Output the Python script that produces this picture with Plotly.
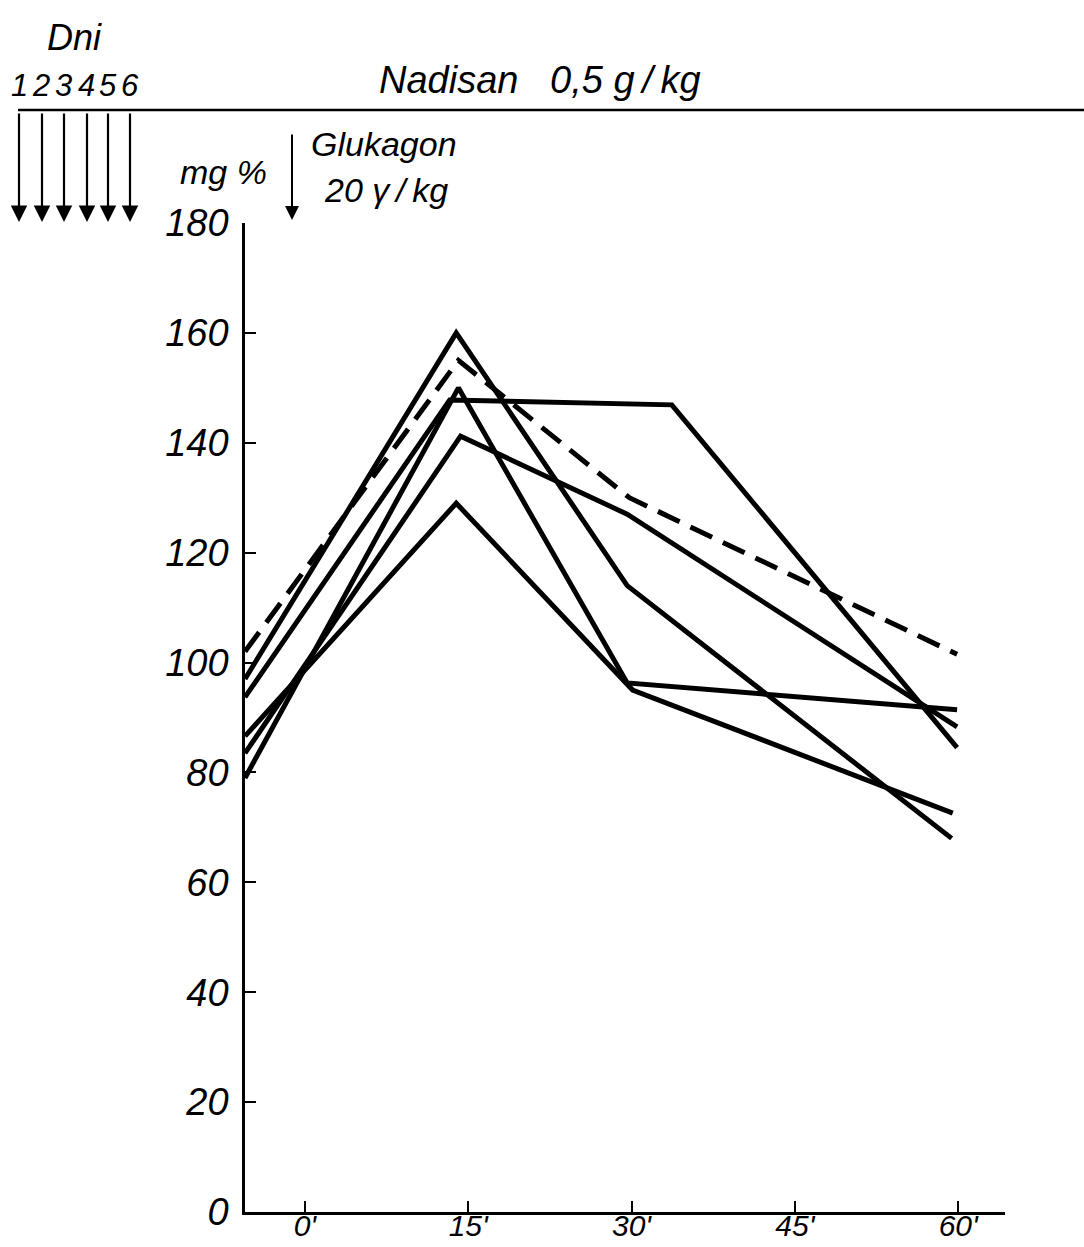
import plotly.graph_objects as go

# ---- data (minutes after glucagon, blood sugar mg %) ----
t_day1 = [-5.5, 13.9, 29.6, 59.4]
v_day1 = [97.0, 160.0, 114.0, 68.0]

t_mean = [-5.5, 14.1, 29.8, 59.9]
v_mean = [102.0, 155.0, 130.0, 101.5]

t_day3 = [-5.5, 13.3, 33.7, 59.9]
v_day3 = [93.7, 147.8, 146.9, 84.5]

t_day4 = [-5.5, 14.1, 29.6, 59.9]
v_day4 = [79.0, 150.0, 96.3, 91.4]

t_day5 = [-5.5, 14.3, 29.6, 59.9]
v_day5 = [83.5, 141.2, 127.0, 88.3]

t_day6 = [-5.5, 13.9, 30.1, 59.5]
v_day6 = [86.6, 129.0, 95.0, 72.6]

x_tickvals = [0, 15, 30, 45, 60]
x_ticktext = ["0'", "15'", "30'", "45'", "60'"]
y_tickvals = [0, 20, 40, 60, 80, 100, 120, 140, 160, 180]
y_ticktext = ["0", "20", "40", "60", "80", "100", "120", "140", "160", "180"]
day_labels = ["1", "2", "3", "4", "5", "6"]

FONT = "Liberation Sans, Arial, sans-serif"

W, H = 1084, 1247
L, R, T, B = 245, 79, 223, 35
PW, PH = W - L - R, H - T - B


def px(xp):
    return (xp - L) / PW


def py(yp):
    return (H - B - yp) / PH


fig = go.Figure()
solid = [(t_day1, v_day1), (t_day3, v_day3), (t_day4, v_day4),
         (t_day5, v_day5), (t_day6, v_day6)]
for tt, vv in solid:
    fig.add_trace(go.Scatter(x=tt, y=vv, mode="lines",
                             line=dict(color="#000", width=5),
                             showlegend=False, hoverinfo="skip"))
fig.add_trace(go.Scatter(x=t_mean, y=v_mean, mode="lines",
                         line=dict(color="#000", width=5, dash="24px,12px"),
                         showlegend=False, hoverinfo="skip"))

annotations = []
shapes = []

def text(s, xp, yp, size=38):
    annotations.append(dict(text=s, x=px(xp), y=py(yp), xref="paper", yref="paper",
                            showarrow=False, xanchor="center", yanchor="middle",
                            font=dict(size=size, color="#000", family=FONT, style="italic")))

text("Dni", 74, 38, 36)
for lab, xp in zip(day_labels, [19, 41, 63, 86, 108, 130]):
    text(lab, xp, 86, 31)
text("Nadisan\u00a0\u00a0\u00a00,5\u00a0g\u2009/\u2009kg", 540, 80, 38)
text("mg\u00a0%", 223, 172, 34)
text("Glukagon", 384, 144, 34)
text("20\u00a0\u03b3\u2009/\u2009kg", 386, 190, 34)

# top horizontal line
shapes.append(dict(type="line", xref="paper", yref="paper",
                   x0=px(18), x1=px(1084), y0=py(110), y1=py(110),
                   line=dict(color="#000", width=2.5)))

# day arrows
for xp in [19, 42, 64, 87, 108, 130]:
    annotations.append(dict(text="", x=px(xp), y=py(222), xref="paper", yref="paper",
                            ax=0, ay=-110, showarrow=True, arrowhead=2,
                            arrowsize=1.5, arrowwidth=2.2, arrowcolor="#000"))
# glucagon arrow
annotations.append(dict(text="", x=px(292), y=py(220), xref="paper", yref="paper",
                        ax=0, ay=-87, showarrow=True, arrowhead=2,
                        arrowsize=1.4, arrowwidth=2.0, arrowcolor="#000"))

fig.update_layout(
    width=W, height=H,
    margin=dict(l=L, r=R, t=T, b=B, pad=0, autoexpand=False),
    paper_bgcolor="white", plot_bgcolor="white",
    font=dict(family=FONT, color="#000", size=38, style="italic"),
    annotations=annotations, shapes=shapes,
    xaxis=dict(range=[-5.5, 64.3], tickvals=x_tickvals, ticktext=x_ticktext,
               showgrid=False, zeroline=False, showline=True, linecolor="#000",
               linewidth=3, ticks="inside", ticklen=11, tickwidth=2, tickcolor="#000",
               tickfont=dict(size=30, family=FONT, style="italic"),
               ticklabelstandoff=-15, automargin=False),
    yaxis=dict(range=[0, 180], tickvals=y_tickvals, ticktext=y_ticktext,
               showgrid=False, zeroline=False, showline=True, linecolor="#000",
               linewidth=2.5, ticks="inside", ticklen=11, tickwidth=2, tickcolor="#000",
               tickfont=dict(size=38, family=FONT, style="italic"),
               ticklabelstandoff=6, automargin=False),
)

fig.write_html("out.html")
